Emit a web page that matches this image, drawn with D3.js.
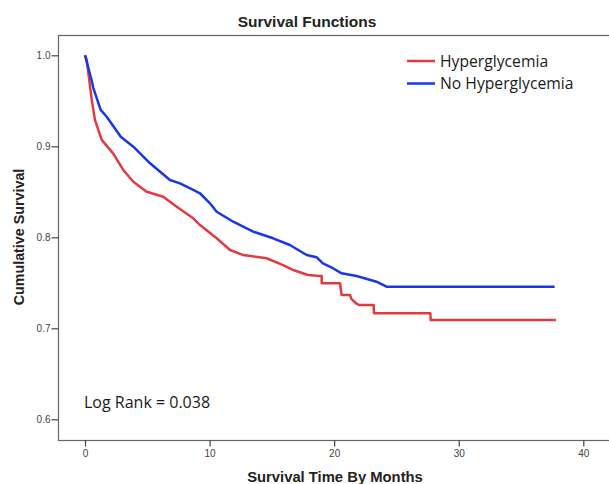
<!DOCTYPE html>
<html>
<head>
<meta charset="utf-8">
<script src="https://cdn.jsdelivr.net/npm/d3@7/dist/d3.min.js"></script>
<style>
  html, body { margin: 0; padding: 0; background: #fff; }
  svg { display: block; }
</style>
</head>
<body>
<svg id="chart" width="609" height="484"></svg>
<script>
// ---- data ----
const seriesNames = ["Hyperglycemia", "No Hyperglycemia"];
const seriesColors = ["#e23b3f", "#1838e6"];

const hyperTime = [0, 0.14, 0.54, 0.80, 1.34, 2.27, 3.07, 3.88, 4.95, 6.28, 7.36, 8.69, 9.23, 10.57, 11.64, 12.7, 14.58, 15.9, 16.72, 17.9, 18.86, 19.0, 19.0, 20.47, 20.6, 21.27, 21.4, 21.8, 22.0, 23.17, 23.2, 27.72, 27.75, 37.8];
const hyperSurv = [1.0, 0.9948, 0.951, 0.929, 0.907, 0.892, 0.874, 0.861, 0.850, 0.8446, 0.8336, 0.8209, 0.8135, 0.7989, 0.786, 0.7805, 0.777, 0.7695, 0.764, 0.7586, 0.7575, 0.7575, 0.7495, 0.7495, 0.7366, 0.7366, 0.732, 0.727, 0.7256, 0.7256, 0.7165, 0.7165, 0.709, 0.709];

const noHyperTime = [0, 0.54, 0.67, 1.26, 1.74, 2.87, 3.88, 5.22, 6.82, 7.62, 8.69, 9.23, 10.03, 10.57, 11.9, 13.5, 15.1, 16.45, 17.8, 18.6, 19.1, 19.9, 20.6, 21.8, 23.4, 24.2, 37.7];
const noHyperSurv = [1.0, 0.972, 0.964, 0.940, 0.9325, 0.9105, 0.8996, 0.8813, 0.863, 0.8593, 0.852, 0.8484, 0.8374, 0.8281, 0.8171, 0.8062, 0.7989, 0.7915, 0.7805, 0.778, 0.7714, 0.766, 0.7604, 0.7575, 0.7512, 0.7457, 0.7457];

const xTicks = [0, 10, 20, 30, 40];
const yTicks = [0.6, 0.7, 0.8, 0.9, 1.0];

const titleText = "Survival Functions";
const xTitle = "Survival Time By Months";
const yTitle = "Cumulative Survival";
const noteText = "Log Rank = 0.038";

// ---- layout ----
const svg = d3.select("#chart");
const frame = { left: 58, top: 35, right: 640, bottom: 440 };

const x = d3.scaleLinear().domain([0, 40]).range([85, 583.3]);
const y = d3.scaleLinear().domain([0.6, 1.0]).range([419.3, 55.3]);

// title
svg.append("text")
  .attr("x", 307).attr("y", 27)
  .attr("text-anchor", "middle")
  .attr("font-family", "Liberation Sans, Arial, sans-serif")
  .attr("font-weight", "bold")
  .attr("font-size", 15.5)
  .attr("fill", "#222")
  .text(titleText);

// frame
svg.append("rect")
  .attr("x", frame.left + 0.5).attr("y", frame.top + 0.5)
  .attr("width", frame.right - frame.left).attr("height", frame.bottom - frame.top)
  .attr("fill", "none").attr("stroke", "#666").attr("stroke-width", 1.2);

// axes
const xAxis = d3.axisBottom(x).tickValues(xTicks).tickFormat(d3.format("d")).tickSize(6).tickPadding(3);
const gx = svg.append("g").attr("transform", `translate(0,${frame.bottom + 0.5})`).call(xAxis);
gx.select(".domain").remove();

const yAxis = d3.axisLeft(y).tickValues(yTicks).tickFormat(d3.format(".1f")).tickSize(7).tickPadding(1);
const gy = svg.append("g").attr("transform", `translate(${frame.left + 0.5},0)`).call(yAxis);
gy.select(".domain").remove();

[gx, gy].forEach(g => {
  g.selectAll("line").attr("stroke", "#444").attr("stroke-width", 1.2);
  g.selectAll("text")
    .attr("font-family", "Liberation Sans, Arial, sans-serif")
    .attr("font-size", 10)
    .attr("fill", "#444");
});

// axis titles
svg.append("text")
  .attr("x", 335).attr("y", 482)
  .attr("text-anchor", "middle")
  .attr("font-family", "Liberation Sans, Arial, sans-serif")
  .attr("font-weight", "bold")
  .attr("font-size", 14.8)
  .attr("fill", "#222")
  .text(xTitle);

svg.append("text")
  .attr("transform", "translate(24,237) rotate(-90)")
  .attr("text-anchor", "middle")
  .attr("font-family", "Liberation Sans, Arial, sans-serif")
  .attr("font-weight", "bold")
  .attr("font-size", 14.3)
  .attr("fill", "#222")
  .text(yTitle);

// curves
const line = d3.line()
  .x(d => x(d[0]))
  .y(d => y(d[1]))
  .curve(d3.curveLinear);

const series = [
  d3.zip(hyperTime, hyperSurv),
  d3.zip(noHyperTime, noHyperSurv)
];

svg.append("g").selectAll("path")
  .data(series)
  .join("path")
  .attr("d", line)
  .attr("fill", "none")
  .attr("stroke", (d, i) => seriesColors[i])
  .attr("stroke-width", 2.5)
  .attr("stroke-linejoin", "round");

// legend
const legend = svg.append("g");
const legendY = [61, 83.5];
seriesNames.forEach((name, i) => {
  legend.append("line")
    .attr("x1", 407).attr("x2", 435)
    .attr("y1", legendY[i]).attr("y2", legendY[i])
    .attr("stroke", seriesColors[i]).attr("stroke-width", 2.5);
  legend.append("text")
    .attr("x", 440).attr("y", legendY[i] + 5.5)
    .attr("font-family", "Open Sans, Noto Sans, sans-serif")
    .attr("font-size", 15.7)
    .attr("fill", "#1a1a1a")
    .text(name);
});

// log rank note
svg.append("text")
  .attr("x", 84).attr("y", 408)
  .attr("font-family", "Open Sans, Noto Sans, sans-serif")
  .attr("font-size", 16)
  .attr("fill", "#1a1a1a")
  .text(noteText);
</script>
</body>
</html>
